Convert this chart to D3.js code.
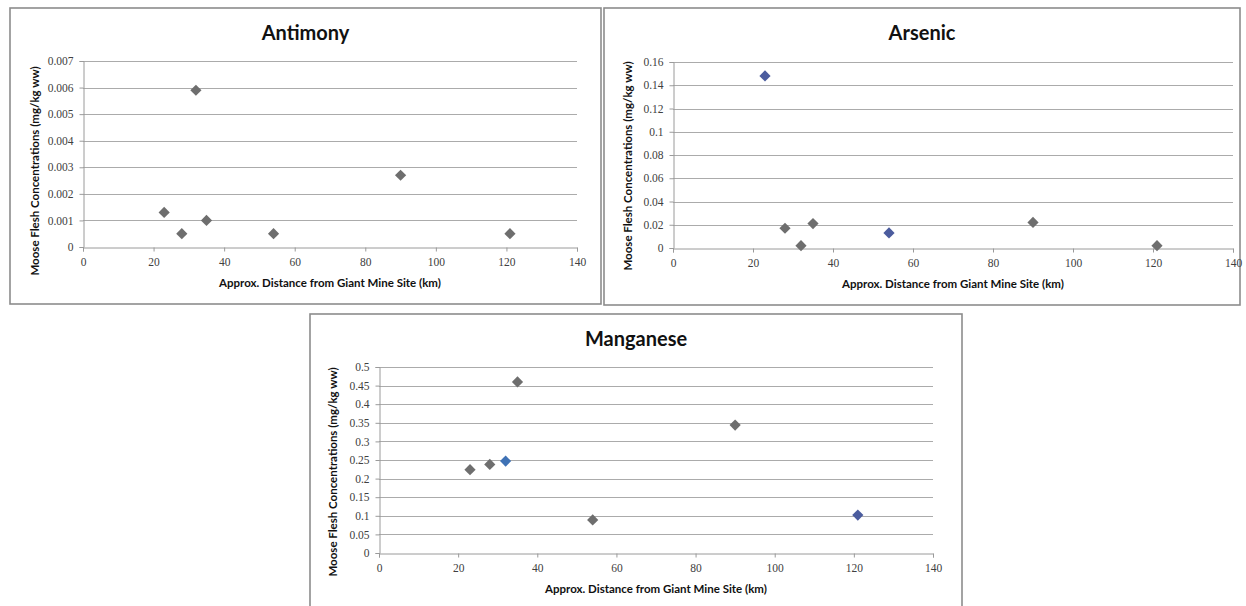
<!DOCTYPE html>
<html>
<head>
<meta charset="utf-8">
<script src="https://cdn.jsdelivr.net/npm/d3@7"></script>
<style>
  body { margin: 0; background: #fff; }
  svg { display: block; }
  .tick text { font-family: "Liberation Serif", serif; font-size: 11.5px; fill: #404040; }
  .ttl { font-family: Lato, "Open Sans", sans-serif; font-weight: bold; fill: #111; }
</style>
</head>
<body>
<svg id="chart"></svg>
<script>
// Sample distances (km) shared by all three panels
var distances = [23, 28, 32, 35, 54, 90, 121];

// Concentrations (mg/kg ww)
var antimony  = [0.0013, 0.0005, 0.0059, 0.001, 0.0005, 0.0027, 0.0005];
var arsenic   = [0.148, 0.017, 0.002, 0.021, 0.013, 0.022, 0.002];
var manganese = [0.224, 0.238, 0.247, 0.46, 0.089, 0.344, 0.102];

// Axis ticks
var xTicks = [0, 20, 40, 60, 80, 100, 120, 140];
var antimonyTicks  = [0, 0.001, 0.002, 0.003, 0.004, 0.005, 0.006, 0.007];
var arsenicTicks   = [0, 0.02, 0.04, 0.06, 0.08, 0.1, 0.12, 0.14, 0.16];
var manganeseTicks = [0, 0.05, 0.1, 0.15, 0.2, 0.25, 0.3, 0.35, 0.4, 0.45, 0.5];

var xTitle = "Approx. Distance from Giant Mine Site (km)";
var yTitle = "Moose Flesh Concentrations (mg/kg ww)";

var W = 1246, H = 606;
var svg = d3.select("#chart").attr("width", W).attr("height", H);

var grey = "#6e6e6e", blue = "#4b5c9e", blue2 = "#3f72b5";

// panel layout: box, plot area, title/label positions
var panels = [
  {title: "Antimony", values: antimony, ticks: antimonyTicks, max: 0.007,
   box: [10, 8, 601, 304], plot: [83, 61, 577, 247], titleY: 40, yTitleX: 35, yTitleY: 171,
   colors: [grey, grey, grey, grey, grey, grey, grey]},
  {title: "Arsenic", values: arsenic, ticks: arsenicTicks, max: 0.16,
   box: [604, 8, 1240, 305], plot: [673, 62, 1233, 248], titleY: 40, yTitleX: 628, yTitleY: 166,
   colors: [blue, grey, grey, grey, blue, grey, grey]},
  {title: "Manganese", values: manganese, ticks: manganeseTicks, max: 0.5,
   box: [310, 314, 962, 615], plot: [379, 367, 933, 553], titleY: 346, yTitleX: 333, yTitleY: 472,
   colors: [grey, grey, blue2, grey, grey, grey, blue]}
];

panels.forEach(function(p) {
  var g = svg.append("g");

  // frame
  g.append("rect")
    .attr("x", p.box[0]).attr("y", p.box[1])
    .attr("width", p.box[2] - p.box[0]).attr("height", p.box[3] - p.box[1])
    .attr("fill", "#fff").attr("stroke", "#8c8c8c").attr("stroke-width", 1.6);

  var x = d3.scaleLinear().domain([0, 140]).range([p.plot[0], p.plot[2]]);
  var y = d3.scaleLinear().domain([0, p.max]).range([p.plot[3], p.plot[1]]);

  // horizontal gridlines
  g.selectAll(".grid").data(p.ticks.slice(1)).enter()
    .append("line")
    .attr("x1", p.plot[0]).attr("x2", p.plot[2])
    .attr("y1", function(d) { return Math.round(y(d)) + 0.5; })
    .attr("y2", function(d) { return Math.round(y(d)) + 0.5; })
    .attr("stroke", "#ababab").attr("stroke-width", 1);

  // axes
  var xAxis = d3.axisBottom(x).tickValues(xTicks).tickSize(4).tickPadding(6)
    .tickFormat(d3.format("d"));
  var yAxis = d3.axisLeft(y).tickValues(p.ticks).tickSize(4).tickPadding(6)
    .tickFormat(function(d) { return String(+d.toFixed(4)); });

  var gx = g.append("g").attr("transform", "translate(0," + (Math.round(p.plot[3]) + 0.5) + ")").call(xAxis);
  var gy = g.append("g").attr("transform", "translate(" + (Math.round(p.plot[0]) + 0.5) + ",0)").call(yAxis);
  [gx, gy].forEach(function(a) {
    a.select(".domain").attr("stroke", "#9a9a9a");
    a.selectAll(".tick line").attr("stroke", "#9a9a9a");
  });

  // titles
  var cx = (p.box[0] + p.box[2]) / 2;
  g.append("text").attr("class", "ttl")
    .attr("x", cx).attr("y", p.titleY).attr("text-anchor", "middle")
    .style("font-size", "20px").text(p.title);
  g.append("text").attr("class", "ttl")
    .attr("x", (p.plot[0] + p.plot[2]) / 2).attr("y", p.plot[3] + 40)
    .attr("text-anchor", "middle").style("font-size", "11.5px").text(xTitle);
  g.append("text").attr("class", "ttl")
    .attr("transform", "translate(" + p.yTitleX + "," + p.yTitleY + ") rotate(-90)")
    .attr("text-anchor", "middle").attr("dy", "0.35em").style("font-size", "11.5px").text(yTitle);

  // diamond markers
  var diamond = d3.symbol().type(d3.symbolDiamond2).size(80);
  g.selectAll(".pt").data(distances).enter()
    .append("path")
    .attr("d", diamond)
    .attr("transform", function(d, i) { return "translate(" + x(d) + "," + y(p.values[i]) + ")"; })
    .attr("fill", function(d, i) { return p.colors[i]; });
});
</script>
</body>
</html>
